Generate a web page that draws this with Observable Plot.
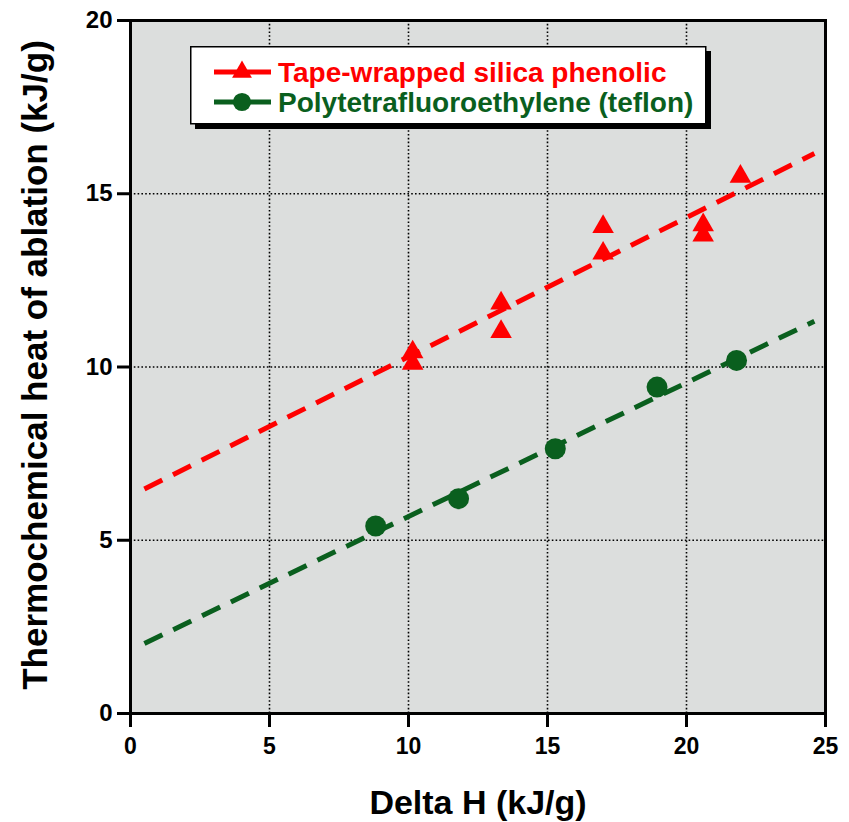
<!DOCTYPE html>
<html>
<head>
<meta charset="utf-8">
<script src="https://cdn.jsdelivr.net/npm/d3@7"></script>
<script src="https://cdn.jsdelivr.net/npm/@observablehq/plot@0.6"></script>
<style>
  body { margin: 0; background: #fff; }
  #wrap { position: relative; width: 849px; height: 822px; }
  #legend { position: absolute; left: 0; top: 0; }
</style>
</head>
<body>
<div id="wrap"></div>
<script>
// ---- data ----
const redName = "Tape-wrapped silica phenolic";
const greenName = "Polytetrafluoroethylene (teflon)";
const redX = [10.15, 10.15, 13.33, 13.33, 17.0, 17.0, 20.6, 20.6, 21.94];
const redY = [10.43, 10.1, 11.84, 11.02, 14.05, 13.28, 14.1, 13.8, 15.5];
const greenX = [8.82, 11.8, 15.28, 18.94, 21.8];
const greenY = [5.41, 6.2, 7.64, 9.42, 10.19];
const fitX = [0.5, 24.6];
const redFitY = [6.48, 16.16];
const greenFitY = [2.02, 11.32];
const xTicks = [0, 5, 10, 15, 20, 25];
const yTicks = [0, 5, 10, 15, 20];
const xGrid = [5, 10, 15, 20];
const yGrid = [5, 10, 15];
const xLabel = "Delta H (kJ/g)";
const yLabel = "Thermochemical heat of ablation (kJ/g)";

const RED = "#ff0000";
const GREEN = "#0a5f1e";
const FONT = "'Liberation Sans', Arial, Helvetica, sans-serif";

const red = redX.map((x, i) => ({x, y: redY[i]}));
const green = greenX.map((x, i) => ({x, y: greenY[i]}));
const redFit = fitX.map((x, i) => ({x, y: redFitY[i]}));
const greenFit = fitX.map((x, i) => ({x, y: greenFitY[i]}));

const chart = Plot.plot({
  width: 849,
  height: 822,
  marginLeft: 130,
  marginRight: 24,
  marginTop: 20,
  marginBottom: 109,
  style: {fontFamily: FONT, fontWeight: "bold", color: "black", background: "white"},
  x: {domain: [0, 25]},
  y: {domain: [0, 20]},
  marks: [
    Plot.frame({fill: "#dcdedd"}),
    Plot.gridX(xGrid, {stroke: "black", strokeOpacity: 1, strokeWidth: 1.6, strokeDasharray: "1.6,2.2"}),
    Plot.gridY(yGrid, {stroke: "black", strokeOpacity: 1, strokeWidth: 1.6, strokeDasharray: "1.6,2.2"}),
    Plot.line(redFit, {x: "x", y: "y", stroke: RED, strokeWidth: 5, strokeDasharray: "20,12", strokeLinecap: "butt"}),
    Plot.line(greenFit, {x: "x", y: "y", stroke: GREEN, strokeWidth: 5, strokeDasharray: "20,12", strokeLinecap: "butt"}),
    Plot.dot(red, {x: "x", y: "y", symbol: "triangle", r: 8, fill: RED, stroke: "none"}),
    Plot.dot(green, {x: "x", y: "y", symbol: "circle", r: 10.5, fill: GREEN, stroke: "none"}),
    Plot.frame({stroke: "black", strokeWidth: 3}),
    Plot.axisX(xTicks, {tickSize: 14, tickPadding: 10, strokeWidth: 3, fontSize: 23, fontWeight: "bold", label: null}),
    Plot.axisY(yTicks, {tickSize: 13, tickPadding: 5, strokeWidth: 3, fontSize: 24, fontWeight: "bold", label: null}),
    Plot.text([xLabel], {frameAnchor: "bottom", dy: 90, text: d => d, fontSize: 34, fontWeight: "bold", lineAnchor: "middle", textAnchor: "middle"}),
    Plot.text([yLabel], {frameAnchor: "left", dx: -95, dy: -2, rotate: -90, text: d => d, fontSize: 35, fontWeight: "bold", lineAnchor: "middle", textAnchor: "middle"})
  ]
});
document.getElementById("wrap").appendChild(chart);

// ---- legend box (overlay) ----
const lg = d3.select("#wrap").append("svg")
  .attr("id", "legend").attr("width", 849).attr("height", 822)
  .style("font-family", FONT).style("font-weight", "bold");
lg.append("rect").attr("x", 195).attr("y", 51).attr("width", 516).attr("height", 78).attr("fill", "black");
lg.append("rect").attr("x", 190.75).attr("y", 46.75).attr("width", 515).attr("height", 77)
  .attr("fill", "white").attr("stroke", "black").attr("stroke-width", 1.5);
const rows = [
  {name: redName, color: RED, sym: d3.symbolTriangle, size: 170, cy: 72},
  {name: greenName, color: GREEN, sym: d3.symbolCircle, size: 260, cy: 102}
];
for (const r of rows) {
  lg.append("line").attr("x1", 214).attr("x2", 271).attr("y1", r.cy).attr("y2", r.cy)
    .attr("stroke", r.color).attr("stroke-width", 5);
  lg.append("path").attr("d", d3.symbol(r.sym, r.size)()).attr("transform", `translate(242,${r.cy})`)
    .attr("fill", r.color);
  lg.append("text").attr("x", 278).attr("y", r.cy).attr("dy", "0.35em")
    .attr("fill", r.color).attr("font-size", 28).text(r.name);
}
</script>
</body>
</html>
